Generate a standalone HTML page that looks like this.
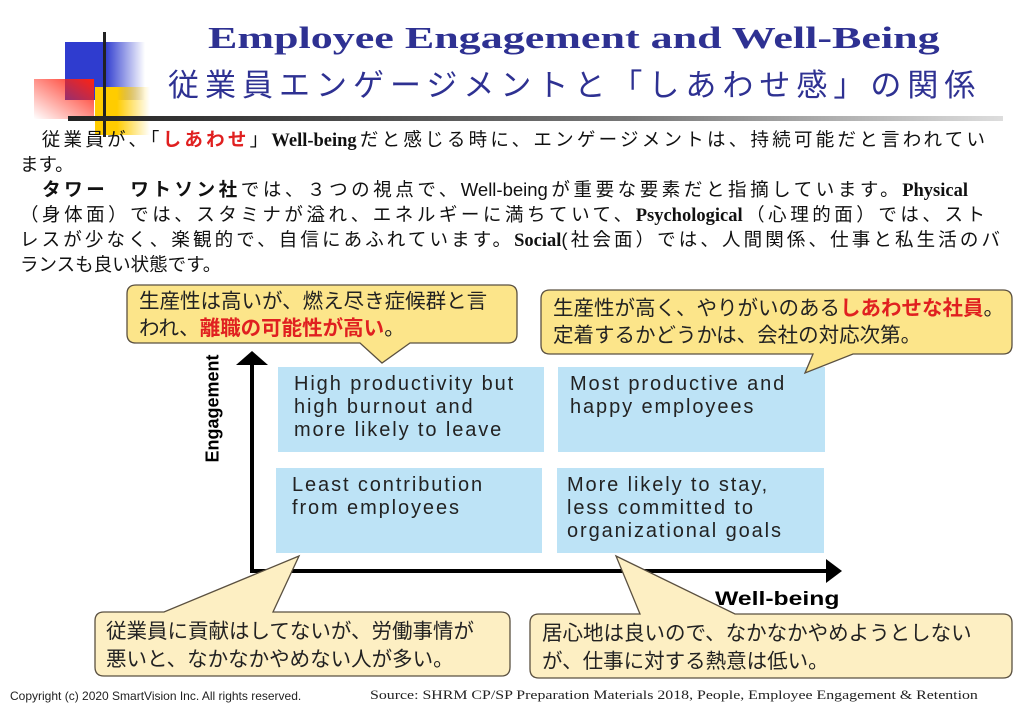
<!DOCTYPE html>
<html><head><meta charset="utf-8"><style>
body{margin:0;width:1024px;height:709px;background:#fff;position:relative;overflow:hidden;font-family:"Liberation Sans","Noto Sans CJK JP",sans-serif}
.a{position:absolute;white-space:nowrap}
.t1{left:208px;top:20px;font:bold 31px "Liberation Serif","Noto Serif CJK SC",serif;color:#2e3192;transform:scaleX(1.42);transform-origin:left top}
.t2{left:168px;top:60px;font-size:31px;color:#2e3192;letter-spacing:6px}
.b{font-size:18.5px;color:#111;line-height:25px;left:20px}
.j{text-align:justify;text-align-last:justify;width:965px}
.ser{font-family:"Liberation Serif",serif;font-weight:bold}
.r{color:#e02020;font-weight:bold}
.box{position:absolute;background:#bde3f6;font-size:20px;letter-spacing:1.9px;line-height:23px;color:#222;padding:6px 0 0 16px;box-sizing:border-box}
.c{font-size:20.5px;line-height:27px;color:#222}
.c2{font-size:20.5px;line-height:28px;color:#222}
</style></head><body>
<svg class="a" style="left:0;top:0" width="1024" height="709">
<defs>
<linearGradient id="gb" x1="0" x2="1"><stop offset="0.5" stop-color="#2f3ccf"/><stop offset="1" stop-color="#2f3ccf" stop-opacity="0"/></linearGradient>
<linearGradient id="gr" x1="1" x2="0" y1="0" y2="1"><stop offset="0" stop-color="#f21"/><stop offset="1" stop-color="#f21" stop-opacity="0"/></linearGradient>
<linearGradient id="gy" x1="0" x2="1"><stop offset="0.4" stop-color="#fc0"/><stop offset="1" stop-color="#fc0" stop-opacity="0"/></linearGradient>
<linearGradient id="gl" x1="0" x2="1"><stop offset="0" stop-color="#222"/><stop offset="0.6" stop-color="#777"/><stop offset="1" stop-color="#ddd"/></linearGradient>
</defs>
<rect x="65" y="42" width="80" height="58" fill="url(#gb)"/>
<rect x="95" y="87" width="55" height="48" fill="url(#gy)"/>
<rect x="34" y="79" width="60" height="40" fill="url(#gr)"/>
<rect x="103" y="32" width="3" height="105" fill="#222"/>
<rect x="68" y="116" width="935" height="5" fill="url(#gl)"/>
<line x1="252" y1="362" x2="252" y2="572" stroke="#000" stroke-width="4"/>
<polygon points="236,365 268,365 252,351" fill="#000"/>
<line x1="250" y1="571" x2="828" y2="571" stroke="#000" stroke-width="4"/>
<polygon points="826,559 826,583 842,571" fill="#000"/>
</svg>
<div class="box" style="left:278px;top:367px;width:266px;height:85px">High productivity but<br>high burnout and<br>more likely to leave</div>
<div class="box" style="left:558px;top:367px;width:267px;height:85px;padding-left:12px">Most productive and<br>happy employees</div>
<div class="box" style="left:276px;top:468px;width:266px;height:85px">Least contribution<br>from employees</div>
<div class="box" style="left:557px;top:468px;width:267px;height:85px;padding-left:10px">More likely to stay,<br>less committed to<br>organizational goals</div>
<svg class="a" style="left:0;top:0" width="1024" height="709">
<g stroke="#5a5040" stroke-width="1.3">
<path d="M136,285 H508 Q517,285 517,294 V334 Q517,343 508,343 H410 L382,363 L360,343 H136 Q127,343 127,334 V294 Q127,285 136,285Z" fill="#fce58a"/>
<path d="M550,290 H1003 Q1012,290 1012,299 V345 Q1012,354 1003,354 H853 L805,373 L813,354 H550 Q541,354 541,345 V299 Q541,290 550,290Z" fill="#fce58a"/>
<path d="M104,612 H164 L299,556 L273,612 H501 Q510,612 510,621 V667 Q510,676 501,676 H104 Q95,676 95,667 V621 Q95,612 104,612Z" fill="#fdefc3"/>
<path d="M539,614 H640 L616,556 L735,614 H1003 Q1012,614 1012,623 V669 Q1012,678 1003,678 H539 Q530,678 530,669 V623 Q530,614 539,614Z" fill="#fdefc3"/>
</g>
</svg>
<div class="a t1">Employee Engagement and Well-Being</div>
<div class="a t2">従業員エンゲージメントと「しあわせ感」の関係</div>
<div class="a b j" style="top:127px">　従業員が、「<span class="r">しあわせ</span>」<span class="ser">Well-being</span>だと感じる時に、エンゲージメントは、持続可能だと言われてい</div>
<div class="a b" style="top:152px">ます。</div>
<div class="a b j" style="top:177px;width:948px"><b>　タワー　ワトソン社</b>では、３つの視点で、Well-beingが重要な要素だと指摘しています。<span class="ser">Physical</span></div>
<div class="a b j" style="top:202px">（身体面）では、スタミナが溢れ、エネルギーに満ちていて、<span class="ser">Psychological</span>（心理的面）では、スト</div>
<div class="a b j" style="top:227px;width:980px">レスが少なく、楽観的で、自信にあふれています。<span class="ser">Social</span>(社会面）では、人間関係、仕事と私生活のバ</div>
<div class="a b" style="top:252px">ランスも良い状態です。</div>
<div class="a c" style="left:139px;top:288px">生産性は高いが、燃え尽き症候群と言<br>われ、<span class="r">離職の可能性が高い</span>。</div>
<div class="a c" style="left:553px;top:295px">生産性が高く、やりがいのある<span class="r">しあわせな社員</span>。<br>定着するかどうかは、会社の対応次第。</div>
<div class="a c2" style="left:106px;top:618px">従業員に貢献はしてないが、労働事情が<br>悪いと、なかなかやめない人が多い。</div>
<div class="a c2" style="left:542px;top:620px">居心地は良いので、なかなかやめようとしない<br>が、仕事に対する熱意は低い。</div>
<div class="a" style="left:158px;top:398px;width:110px;text-align:center;transform:rotate(-90deg);font:bold 18px 'Liberation Sans',sans-serif">Engagement</div>
<div class="a" style="left:715px;top:589px;font:bold 19px 'Liberation Sans',sans-serif;transform:scaleX(1.3);transform-origin:left top">Well-being</div>
<div class="a" style="left:10px;top:689px;font-size:12px;color:#222">Copyright (c) 2020 SmartVision Inc. All rights reserved.</div>
<div class="a" style="left:370px;top:688px;font-size:12.5px;font-family:'Liberation Serif',serif;color:#222;transform:scaleX(1.27);transform-origin:left top">Source: SHRM CP/SP Preparation Materials 2018, People, Employee Engagement &amp; Retention</div>
</body></html>
